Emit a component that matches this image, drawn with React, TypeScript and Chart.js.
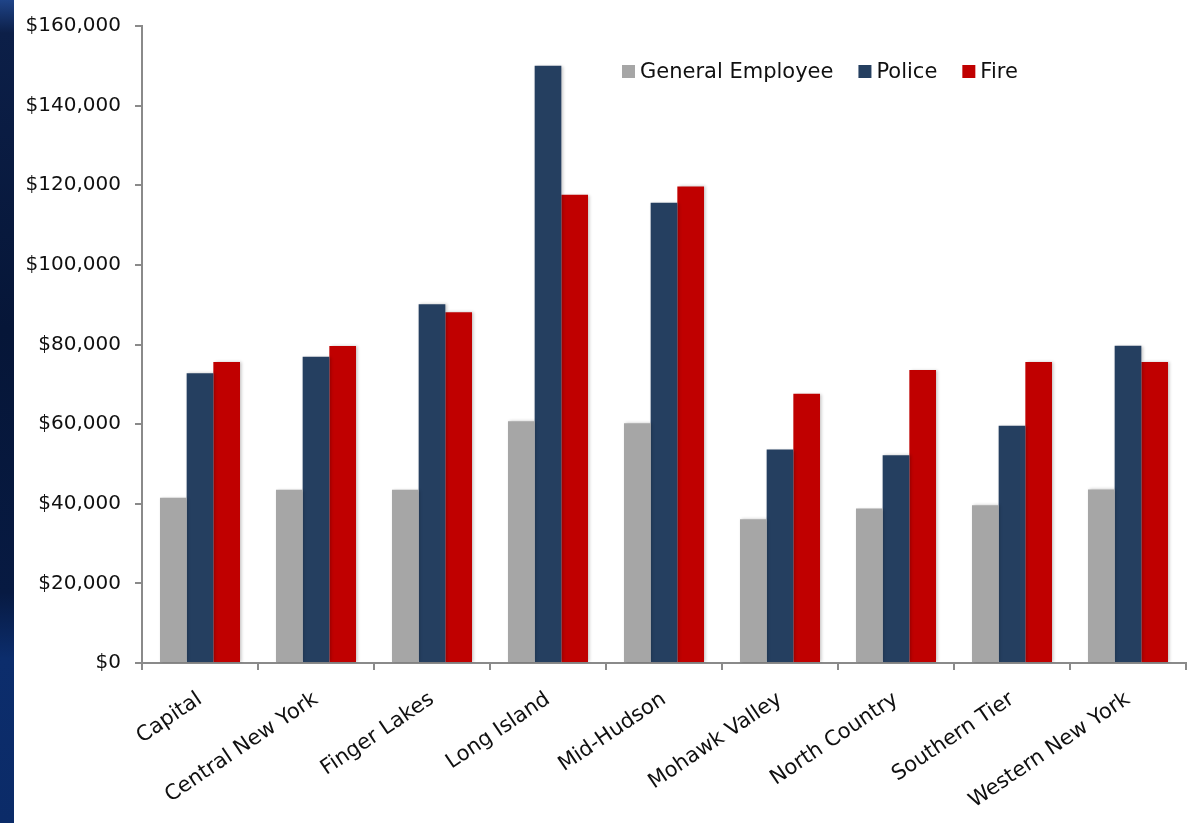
import React, { useEffect, useRef } from "react";
import { Chart, registerables } from "chart.js";

Chart.register(...registerables);

const categories = [
  "Capital",
  "Central New York",
  "Finger Lakes",
  "Long Island",
  "Mid-Hudson",
  "Mohawk Valley",
  "North Country",
  "Southern Tier",
  "Western New York",
];
const generalEmployee = [41500, 43500, 43500, 60750, 60200, 36100, 38800, 39600, 43600];
const police = [72800, 76900, 90100, 150000, 115600, 53600, 52200, 59600, 79700];
const fire = [75600, 79600, 88100, 117600, 119700, 67600, 73600, 75600, 75600];
const seriesNames = ["General Employee", "Police", "Fire"];
const seriesColors = ["#a6a6a6", "#253f60", "#c00000"];

const FONT = "'DejaVu Sans', 'Liberation Sans', Arial, sans-serif";
const TEXT = "#101010";
const AXIS = "#8a8a8a";

const legendPlugin = {
  id: "customLegend",
  afterDraw(chart: any) {
    const { ctx, chartArea } = chart;
    ctx.save();
    ctx.font = `21px ${FONT}`;
    ctx.textBaseline = "alphabetic";
    let x = chartArea.left + 480;
    const baseline = 78;
    seriesNames.forEach((name, i) => {
      ctx.fillStyle = seriesColors[i];
      ctx.fillRect(x, 65, 13, 13);
      x += 18;
      ctx.fillStyle = TEXT;
      ctx.fillText(name, x, baseline);
      x += ctx.measureText(name).width + 25;
    });
    ctx.restore();
  },
};

const shadowPlugin = {
  id: "barShadow",
  beforeDatasetsDraw(chart: any) {
    const ctx = chart.ctx;
    ctx.save();
    ctx.shadowColor = "rgba(0,0,0,0.22)";
    ctx.shadowBlur = 3;
    ctx.shadowOffsetX = 1.5;
    ctx.shadowOffsetY = 0;
  },
  afterDatasetsDraw(chart: any) {
    chart.ctx.restore();
  },
};

export default function App() {
  const canvasRef = useRef<HTMLCanvasElement | null>(null);

  useEffect(() => {
    if (!canvasRef.current) return;
    const chart = new Chart(canvasRef.current, {
      type: "bar",
      data: {
        labels: categories,
        datasets: [
          { label: seriesNames[0], data: generalEmployee, backgroundColor: seriesColors[0] },
          { label: seriesNames[1], data: police, backgroundColor: seriesColors[1] },
          { label: seriesNames[2], data: fire, backgroundColor: seriesColors[2] },
        ],
      },
      options: {
        responsive: false,
        animation: false,
        layout: { padding: { top: 22, right: 18, left: 0, bottom: 0 } },
        datasets: {
          bar: { categoryPercentage: 0.69, barPercentage: 1.0, borderWidth: 0 },
        },
        plugins: {
          legend: { display: false },
          tooltip: { enabled: false },
        },
        scales: {
          x: {
            afterFit: (s: any) => {
              s.height = 160;
            },
            grid: {
              offset: true,
              drawOnChartArea: false,
              drawTicks: true,
              tickLength: 7,
              color: AXIS,
              lineWidth: 2,
            },
            border: { display: true, color: AXIS, width: 2 },
            ticks: {
              color: TEXT,
              font: { family: FONT, size: 21 },
              minRotation: 34,
              maxRotation: 34,
              padding: 17,
              autoSkip: false,
            },
          },
          y: {
            min: 0,
            max: 160000,
            afterFit: (s: any) => {
              s.width = 128;
            },
            grid: {
              drawOnChartArea: false,
              drawTicks: true,
              tickLength: 7,
              color: AXIS,
              lineWidth: 2,
            },
            border: { display: true, color: AXIS, width: 2 },
            ticks: {
              stepSize: 20000,
              color: TEXT,
              font: { family: FONT, size: 20 },
              padding: 14,
              callback: (v: any) => "$" + Number(v).toLocaleString("en-US"),
            },
          },
        },
      },
      plugins: [legendPlugin, shadowPlugin],
    });
    return () => chart.destroy();
  }, []);

  return (
    <div
      style={{
        position: "fixed",
        left: 0,
        top: 0,
        width: 1204,
        height: 823,
        background: "#ffffff",
        overflow: "hidden",
      }}
    >
      <div
        style={{
          position: "absolute",
          left: 0,
          top: 0,
          width: 14,
          height: 823,
          background:
            "linear-gradient(180deg, #1f4488 0%, #0c1f48 4%, #061638 40%, #071a42 72%, #0c2d6c 80%, #0b2b68 100%)",
        }}
      />
      <canvas
        ref={canvasRef}
        width={1190}
        height={823}
        style={{ position: "absolute", left: 14, top: 0, width: 1190, height: 823 }}
      />
    </div>
  );
}
